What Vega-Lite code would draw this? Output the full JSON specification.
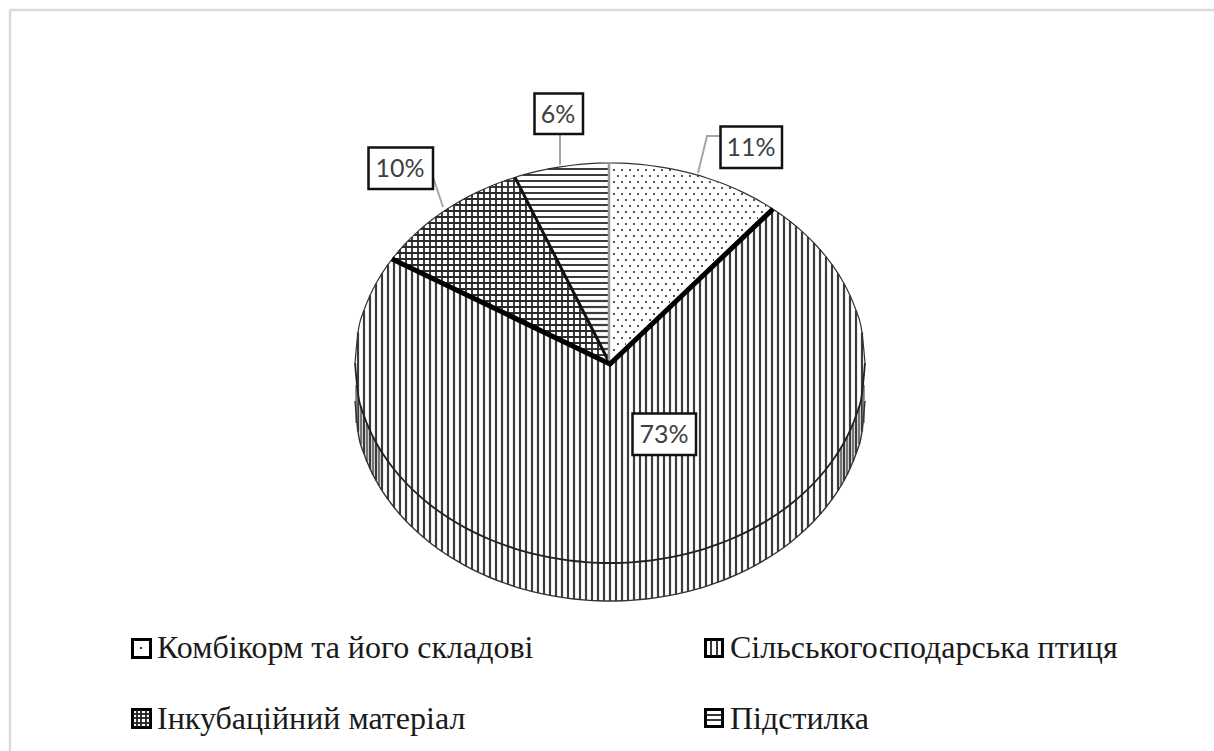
{"$schema":"https://vega.github.io/schema/vega-lite/v6.json","width":1214,"height":751,"padding":0,"autosize":"none","background":"white","config":{"view":{"stroke":null}},
"encoding":{"x":{"field":"x","type":"quantitative","scale":{"domain":[0,1214],"range":[0,1214],"nice":false,"zero":false},"axis":null},"y":{"field":"y","type":"quantitative","scale":{"domain":[0,751],"range":[0,751],"nice":false,"zero":false},"axis":null}},
"layer":[
{"data":{"values":[{"x":10,"y":10,"x2":1214},{"x":10,"y":751,"x2":10}]},"mark":{"type":"rule","stroke":"#d9d9d9","strokeWidth":2.5},"encoding":{"x2":{"field":"x2"},"y2":{"datum":10}}},
{"data":{"values":[{"x":358,"y":332.4,"y2":431.6},{"x":364,"y":310.3,"y2":453.7},{"x":370,"y":295.4,"y2":468.6},{"x":376,"y":283.5,"y2":480.5},{"x":382,"y":273.4,"y2":490.6},{"x":388,"y":264.6,"y2":499.4},{"x":394,"y":260,"y2":507.3},{"x":400,"y":262.8,"y2":514.5},{"x":406,"y":265.7,"y2":521},{"x":412,"y":268.6,"y2":527},{"x":418,"y":271.5,"y2":532.6},{"x":424,"y":274.4,"y2":537.8},{"x":430,"y":277.3,"y2":542.7},{"x":436,"y":280.2,"y2":547.2},{"x":442,"y":283.1,"y2":551.5},{"x":448,"y":286,"y2":555.5},{"x":454,"y":288.9,"y2":559.2},{"x":460,"y":291.7,"y2":562.7},{"x":466,"y":294.6,"y2":566.1},{"x":472,"y":297.5,"y2":569.2},{"x":478,"y":300.4,"y2":572.1},{"x":484,"y":303.3,"y2":574.9},{"x":490,"y":306.2,"y2":577.5},{"x":496,"y":309.1,"y2":579.9},{"x":502,"y":312,"y2":582.2},{"x":508,"y":314.9,"y2":584.3},{"x":514,"y":317.8,"y2":586.3},{"x":520,"y":320.6,"y2":588.1},{"x":526,"y":323.5,"y2":589.8},{"x":532,"y":326.4,"y2":591.4},{"x":538,"y":329.3,"y2":592.9},{"x":544,"y":332.2,"y2":594.2},{"x":550,"y":335.1,"y2":595.4},{"x":556,"y":338,"y2":596.5},{"x":562,"y":340.9,"y2":597.4},{"x":568,"y":343.8,"y2":598.3},{"x":574,"y":346.7,"y2":599},{"x":580,"y":349.5,"y2":599.6},{"x":586,"y":352.4,"y2":600.1},{"x":592,"y":355.3,"y2":600.5},{"x":598,"y":358.2,"y2":600.8},{"x":604,"y":361.1,"y2":600.9},{"x":610,"y":364,"y2":601},{"x":616,"y":358.3,"y2":600.9},{"x":622,"y":352.6,"y2":600.8},{"x":628,"y":346.9,"y2":600.5},{"x":634,"y":341.2,"y2":600.1},{"x":640,"y":335.5,"y2":599.6},{"x":646,"y":329.8,"y2":599},{"x":652,"y":324.1,"y2":598.3},{"x":658,"y":318.4,"y2":597.4},{"x":664,"y":312.6,"y2":596.5},{"x":670,"y":306.9,"y2":595.4},{"x":676,"y":301.2,"y2":594.2},{"x":682,"y":295.5,"y2":592.9},{"x":688,"y":289.8,"y2":591.4},{"x":694,"y":284.1,"y2":589.8},{"x":700,"y":278.4,"y2":588.1},{"x":706,"y":272.7,"y2":586.3},{"x":712,"y":267,"y2":584.3},{"x":718,"y":261.3,"y2":582.2},{"x":724,"y":255.6,"y2":579.9},{"x":730,"y":249.9,"y2":577.5},{"x":736,"y":244.2,"y2":574.9},{"x":742,"y":238.5,"y2":572.1},{"x":748,"y":232.8,"y2":569.2},{"x":754,"y":227,"y2":566.1},{"x":760,"y":221.3,"y2":562.7},{"x":766,"y":215.6,"y2":559.2},{"x":772,"y":209.9,"y2":555.5},{"x":778,"y":212.5,"y2":551.5},{"x":784,"y":216.8,"y2":547.2},{"x":790,"y":221.3,"y2":542.7},{"x":796,"y":226.2,"y2":537.8},{"x":802,"y":231.4,"y2":532.6},{"x":808,"y":237,"y2":527},{"x":814,"y":243,"y2":521},{"x":820,"y":249.5,"y2":514.5},{"x":826,"y":256.7,"y2":507.3},{"x":832,"y":264.6,"y2":499.4},{"x":838,"y":273.4,"y2":490.6},{"x":844,"y":283.5,"y2":480.5},{"x":850,"y":295.4,"y2":468.6},{"x":856,"y":310.3,"y2":453.7},{"x":862,"y":332.4,"y2":431.6}]},"mark":{"type":"rule","stroke":"#3c3c3c","strokeWidth":2.2},"encoding":{"y2":{"field":"y2"}}},
{"data":{"values":[{"x":356.5,"y":385,"y2":423},{"x":361,"y":406.1,"y2":444.1},{"x":367,"y":423.6,"y2":461.6},{"x":373,"y":436.8,"y2":474.8},{"x":379,"y":447.7,"y2":485.7},{"x":863.5,"y":385,"y2":423},{"x":859,"y":406.1,"y2":444.1},{"x":853,"y":423.6,"y2":461.6},{"x":847,"y":436.8,"y2":474.8},{"x":841,"y":447.7,"y2":485.7}]},"mark":{"type":"rule","stroke":"#777777","strokeWidth":2.5},"encoding":{"y2":{"field":"y2"}}},
{"data":{"values":[{"x":394,"y":256.7,"y2":260},{"x":400,"y":249.5,"y2":262.8},{"x":406,"y":243,"y2":265.7},{"x":412,"y":237,"y2":268.6},{"x":418,"y":231.4,"y2":271.5},{"x":424,"y":226.2,"y2":274.4},{"x":430,"y":221.3,"y2":277.3},{"x":436,"y":216.8,"y2":280.2},{"x":442,"y":212.5,"y2":283.1},{"x":448,"y":208.5,"y2":286},{"x":454,"y":204.8,"y2":288.9},{"x":460,"y":201.3,"y2":291.7},{"x":466,"y":197.9,"y2":294.6},{"x":472,"y":194.8,"y2":297.5},{"x":478,"y":191.9,"y2":300.4},{"x":484,"y":189.1,"y2":303.3},{"x":490,"y":186.5,"y2":306.2},{"x":496,"y":184.1,"y2":309.1},{"x":502,"y":181.8,"y2":312},{"x":508,"y":179.7,"y2":314.9},{"x":514,"y":177.7,"y2":317.8},{"x":520,"y":187.2,"y2":320.6},{"x":526,"y":199,"y2":323.5},{"x":532,"y":210.8,"y2":326.4},{"x":538,"y":222.6,"y2":329.3},{"x":544,"y":234.4,"y2":332.2},{"x":550,"y":246.1,"y2":335.1},{"x":556,"y":257.9,"y2":338},{"x":562,"y":269.7,"y2":340.9},{"x":568,"y":281.5,"y2":343.8},{"x":574,"y":293.3,"y2":346.7},{"x":580,"y":305,"y2":349.5},{"x":586,"y":316.8,"y2":352.4},{"x":592,"y":328.6,"y2":355.3},{"x":598,"y":340.4,"y2":358.2}]},"mark":{"type":"rule","stroke":"#2a2a2a","strokeWidth":1.8},"encoding":{"y2":{"field":"y2"}}},
{"data":{"values":[{"y":181,"x":504.3,"x2":516.8},{"y":187,"x":488.9,"x2":519.9},{"y":193,"x":475.7,"x2":522.9},{"y":199,"x":464,"x2":526},{"y":205,"x":453.7,"x2":529},{"y":211,"x":444.3,"x2":532.1},{"y":217,"x":435.7,"x2":535.2},{"y":223,"x":427.9,"x2":538.2},{"y":229,"x":420.7,"x2":541.3},{"y":235,"x":414.1,"x2":544.3},{"y":241,"x":407.9,"x2":547.4},{"y":247,"x":402.3,"x2":550.4},{"y":253,"x":397,"x2":553.5},{"y":259,"x":392,"x2":556.5},{"y":265,"x":404.5,"x2":559.6},{"y":271,"x":416.9,"x2":562.6},{"y":277,"x":429.4,"x2":565.7},{"y":283,"x":441.8,"x2":568.8},{"y":289,"x":454.3,"x2":571.8},{"y":295,"x":466.8,"x2":574.9},{"y":301,"x":479.2,"x2":577.9},{"y":307,"x":491.7,"x2":581},{"y":313,"x":504.1,"x2":584},{"y":319,"x":516.6,"x2":587.1},{"y":325,"x":529,"x2":590.1},{"y":331,"x":541.5,"x2":593.2},{"y":337,"x":553.9,"x2":596.2},{"y":343,"x":566.4,"x2":599.3},{"y":349,"x":578.9,"x2":602.3},{"y":355,"x":591.3,"x2":605.4}]},"mark":{"type":"rule","stroke":"#2a2a2a","strokeWidth":1.8},"encoding":{"x2":{"field":"x2"}}},
{"data":{"values":[{"y":169,"x":548,"x2":608},{"y":175,"x":523,"x2":608},{"y":181,"x":516.8,"x2":608},{"y":187,"x":519.9,"x2":608},{"y":193,"x":522.9,"x2":608},{"y":199,"x":526,"x2":608},{"y":205,"x":529,"x2":608},{"y":211,"x":532.1,"x2":608},{"y":217,"x":535.2,"x2":608},{"y":223,"x":538.2,"x2":608},{"y":229,"x":541.3,"x2":608},{"y":235,"x":544.3,"x2":608},{"y":241,"x":547.4,"x2":608},{"y":247,"x":550.4,"x2":608},{"y":253,"x":553.5,"x2":608},{"y":259,"x":556.5,"x2":608},{"y":265,"x":559.6,"x2":608},{"y":271,"x":562.6,"x2":608},{"y":277,"x":565.7,"x2":608},{"y":283,"x":568.8,"x2":608},{"y":289,"x":571.8,"x2":608},{"y":295,"x":574.9,"x2":608},{"y":301,"x":577.9,"x2":608},{"y":307,"x":581,"x2":608},{"y":313,"x":584,"x2":608},{"y":319,"x":587.1,"x2":608},{"y":325,"x":590.1,"x2":608},{"y":331,"x":593.2,"x2":608},{"y":337,"x":596.2,"x2":608},{"y":343,"x":599.3,"x2":608},{"y":349,"x":602.3,"x2":608},{"y":355,"x":605.4,"x2":608}]},"mark":{"type":"rule","stroke":"#3c3c3c","strokeWidth":2.2},"encoding":{"x2":{"field":"x2"}}},
{"data":{"values":[{"y":170,"x":613,"x2":677},{"y":176,"x":617,"x2":700},{"y":182,"x":613,"x2":718},{"y":188,"x":617,"x2":733},{"y":194,"x":613,"x2":746},{"y":200,"x":617,"x2":757},{"y":206,"x":613,"x2":766},{"y":212,"x":617,"x2":765},{"y":218,"x":613,"x2":758},{"y":224,"x":617,"x2":752},{"y":230,"x":613,"x2":746},{"y":236,"x":617,"x2":740},{"y":242,"x":613,"x2":733},{"y":248,"x":617,"x2":727},{"y":254,"x":613,"x2":721},{"y":260,"x":617,"x2":714},{"y":266,"x":613,"x2":708},{"y":272,"x":617,"x2":702},{"y":278,"x":613,"x2":695},{"y":284,"x":617,"x2":689},{"y":290,"x":613,"x2":683},{"y":296,"x":617,"x2":676},{"y":302,"x":613,"x2":670},{"y":308,"x":617,"x2":664},{"y":314,"x":613,"x2":658},{"y":320,"x":617,"x2":651},{"y":326,"x":613,"x2":645},{"y":332,"x":617,"x2":639},{"y":338,"x":613,"x2":632},{"y":344,"x":617,"x2":626},{"y":350,"x":613,"x2":620}]},"mark":{"type":"rule","stroke":"#555555","strokeWidth":1.8,"strokeDash":[2,6]},"encoding":{"x2":{"field":"x2"}}},
{"data":{"name":"outline","values":[{"x":355,"top":363,"bottom":363,"wall":401},{"x":358,"top":332.4,"bottom":393.6,"wall":431.6},{"x":364,"top":310.3,"bottom":415.7,"wall":453.7},{"x":370,"top":295.4,"bottom":430.6,"wall":468.6},{"x":376,"top":283.5,"bottom":442.5,"wall":480.5},{"x":382,"top":273.4,"bottom":452.6,"wall":490.6},{"x":394,"top":256.7,"bottom":469.3,"wall":507.3},{"x":406,"top":243,"bottom":483,"wall":521},{"x":418,"top":231.4,"bottom":494.6,"wall":532.6},{"x":430,"top":221.3,"bottom":504.7,"wall":542.7},{"x":442,"top":212.5,"bottom":513.5,"wall":551.5},{"x":454,"top":204.8,"bottom":521.2,"wall":559.2},{"x":466,"top":197.9,"bottom":528.1,"wall":566.1},{"x":478,"top":191.9,"bottom":534.1,"wall":572.1},{"x":490,"top":186.5,"bottom":539.5,"wall":577.5},{"x":502,"top":181.8,"bottom":544.2,"wall":582.2},{"x":514,"top":177.7,"bottom":548.3,"wall":586.3},{"x":526,"top":174.2,"bottom":551.8,"wall":589.8},{"x":538,"top":171.1,"bottom":554.9,"wall":592.9},{"x":550,"top":168.6,"bottom":557.4,"wall":595.4},{"x":562,"top":166.6,"bottom":559.4,"wall":597.4},{"x":574,"top":165,"bottom":561,"wall":599},{"x":586,"top":163.9,"bottom":562.1,"wall":600.1},{"x":598,"top":163.2,"bottom":562.8,"wall":600.8},{"x":610,"top":163,"bottom":563,"wall":601},{"x":622,"top":163.2,"bottom":562.8,"wall":600.8},{"x":634,"top":163.9,"bottom":562.1,"wall":600.1},{"x":646,"top":165,"bottom":561,"wall":599},{"x":658,"top":166.6,"bottom":559.4,"wall":597.4},{"x":670,"top":168.6,"bottom":557.4,"wall":595.4},{"x":682,"top":171.1,"bottom":554.9,"wall":592.9},{"x":694,"top":174.2,"bottom":551.8,"wall":589.8},{"x":706,"top":177.7,"bottom":548.3,"wall":586.3},{"x":718,"top":181.8,"bottom":544.2,"wall":582.2},{"x":730,"top":186.5,"bottom":539.5,"wall":577.5},{"x":742,"top":191.9,"bottom":534.1,"wall":572.1},{"x":754,"top":197.9,"bottom":528.1,"wall":566.1},{"x":766,"top":204.8,"bottom":521.2,"wall":559.2},{"x":778,"top":212.5,"bottom":513.5,"wall":551.5},{"x":790,"top":221.3,"bottom":504.7,"wall":542.7},{"x":802,"top":231.4,"bottom":494.6,"wall":532.6},{"x":814,"top":243,"bottom":483,"wall":521},{"x":826,"top":256.7,"bottom":469.3,"wall":507.3},{"x":838,"top":273.4,"bottom":452.6,"wall":490.6},{"x":844,"top":283.5,"bottom":442.5,"wall":480.5},{"x":850,"top":295.4,"bottom":430.6,"wall":468.6},{"x":856,"top":310.3,"bottom":415.7,"wall":453.7},{"x":862,"top":332.4,"bottom":393.6,"wall":431.6},{"x":865,"top":363,"bottom":363,"wall":401}]},
 "mark":{"type":"line","stroke":"#333333","strokeWidth":1.2,"interpolate":"monotone"},"encoding":{"y":{"field":"top","type":"quantitative"}}},
{"data":{"name":"outline"},"mark":{"type":"line","stroke":"#222222","strokeWidth":1.8,"interpolate":"monotone"},"encoding":{"y":{"field":"bottom","type":"quantitative"}}},
{"data":{"name":"outline"},"mark":{"type":"line","stroke":"#333333","strokeWidth":1.4,"interpolate":"monotone"},"encoding":{"y":{"field":"wall","type":"quantitative"}}},
{"data":{"values":[{"x":515,"y":177.4,"i":1},{"x":610,"y":364,"i":2}]},"mark":{"type":"line","stroke":"#111111","strokeWidth":3},"encoding":{"order":{"field":"i"}}},
{"data":{"values":[{"x":609,"y":163,"i":1},{"x":609,"y":364,"i":2}]},"mark":{"type":"line","stroke":"#999999","strokeWidth":2.5},"encoding":{"order":{"field":"i"}}},
{"data":{"values":[{"x":392,"y":259,"i":1},{"x":610,"y":364,"i":2},{"x":773,"y":209,"i":3}]},"mark":{"type":"line","stroke":"#000000","strokeWidth":5},"encoding":{"order":{"field":"i"}}},
{"data":{"values":[{"x":560,"y":134,"i":1,"s":"6%"},{"x":560,"y":165,"i":2,"s":"6%"},{"x":720,"y":136,"i":1,"s":"11%"},{"x":707,"y":136,"i":2,"s":"11%"},{"x":698,"y":173,"i":3,"s":"11%"},{"x":433,"y":177,"i":1,"s":"10%"},{"x":443,"y":207,"i":2,"s":"10%"}]},"mark":{"type":"line","stroke":"#a6a6a6","strokeWidth":2},"encoding":{"order":{"field":"i"},"detail":{"field":"s"}}},
{"data":{"name":"labels","values":[{"label":"11%","x":720.5,"x2":782,"y":126.5,"y2":168,"cx":751,"cy":148},{"label":"73%","x":632.5,"x2":696,"y":413.5,"y2":455,"cx":664,"cy":435},{"label":"10%","x":368.5,"x2":433,"y":147.5,"y2":189,"cx":400,"cy":169},{"label":"6%","x":534.5,"x2":583,"y":93.5,"y2":134,"cx":558,"cy":115}]},"mark":{"type":"rect","fill":"white","stroke":"#111111","strokeWidth":2.5},"encoding":{"x2":{"field":"x2"},"y2":{"field":"y2"}}},
{"data":{"name":"labels"},"mark":{"type":"text","font":"Lato","fontSize":25,"fill":"#404040","align":"center","baseline":"middle"},"encoding":{"x":{"field":"cx","type":"quantitative"},"y":{"field":"cy","type":"quantitative"},"text":{"field":"label"}}},
{"data":{"values":[{"category":"Комбікорм та його складові","x":132.5,"x2":150.5,"y":639.5,"y2":657.5},{"category":"Сільськогосподарська птиця","x":705.5,"x2":722.5,"y":639.5,"y2":656.5},{"category":"Інкубаційний матеріал","x":132.5,"x2":150.5,"y":709.5,"y2":727.5},{"category":"Підстилка","x":705.5,"x2":722.5,"y":709.5,"y2":726.5}]},"mark":{"type":"rect","fill":"white","stroke":"#000000","strokeWidth":3},"encoding":{"x2":{"field":"x2"},"y2":{"field":"y2"}}},
{"data":{"values":[{"x":141,"y":647,"y2":649},{"x":711,"y":640,"y2":656},{"x":717,"y":640,"y2":656},{"x":137,"y":710,"y2":727},{"x":141,"y":710,"y2":727},{"x":146,"y":710,"y2":727}]},"mark":{"type":"rule","stroke":"#222222","strokeWidth":1.8},"encoding":{"y2":{"field":"y2"}}},
{"data":{"values":[{"y":714,"x":133,"x2":150},{"y":718,"x":133,"x2":150},{"y":723,"x":133,"x2":150},{"y":715,"x":706,"x2":722},{"y":720,"x":706,"x2":722}]},"mark":{"type":"rule","stroke":"#222222","strokeWidth":1.8},"encoding":{"x2":{"field":"x2"}}},
{"data":{"values":[{"category":"Комбікорм та його складові","x":157,"y":658},{"category":"Сільськогосподарська птиця","x":730,"y":658},{"category":"Інкубаційний матеріал","x":157,"y":729},{"category":"Підстилка","x":730,"y":729}]},"mark":{"type":"text","font":"Liberation Serif","fontSize":32,"fill":"#1a1a1a","align":"left","baseline":"alphabetic"},"encoding":{"text":{"field":"category"}}}
]}
